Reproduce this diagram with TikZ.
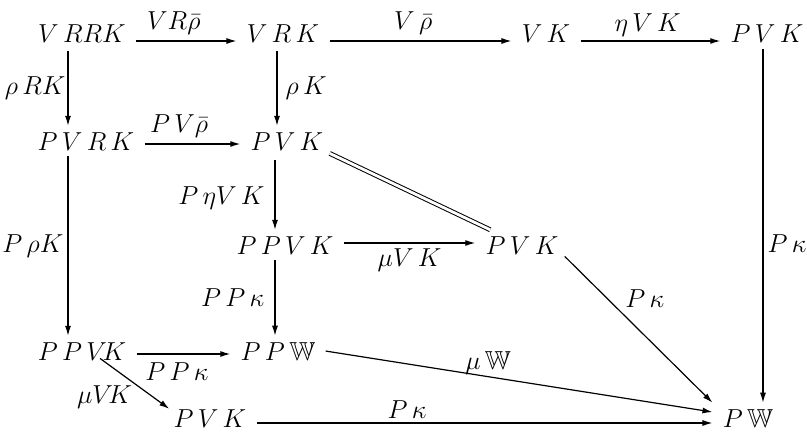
\RequirePackage{fix-cm}
\documentclass[tikz,border=0pt]{standalone}
\usepackage{amssymb}
\usetikzlibrary{arrows.meta}
\begin{document}
\begin{tikzpicture}[x=0.5pt,y=-0.5pt,
  obj/.style={anchor=base, inner xsep=5pt, inner ysep=3pt, font=\fontsize{13}{15}\selectfont},
  lbl/.style={font=\fontsize{13}{15}\selectfont, inner sep=2pt},
  arr/.style={-{Latex[length=5pt,width=3pt]}, line width=0.6pt},
  eq/.style={double, double distance=1.4pt, line width=0.5pt}]
\useasboundingbox (0,0) rectangle (807,433);
% objects
\node[obj] (vrrk)  at (82,43)  {$V\,RRK$};
\node[obj] (vrk)   at (283,43) {$V\,R\,K$};
\node[obj] (vk)    at (546,43) {$V\,K$};
\node[obj] (pvktr) at (767,43) {$P\,V\,K$};
\node[obj] (pvrk)  at (86,150) {$P\,V\,R\,K$};
\node[obj] (pvk2)  at (287,150) {$P\,V\,K$};
\node[obj] (ppvk3) at (285,254) {$P\,P\,V\,K$};
\node[obj] (pvk3)  at (522,254) {$P\,V\,K$};
\node[obj] (ppvk4) at (82,360) {$P\,P\,V\!K$};
\node[obj] (ppw)   at (278,360) {$P\,P\,\mathbb{W}$};
\node[obj] (pvk5)  at (210,427) {$P\,V\,K$};
\node[obj] (pw)    at (748,427) {$P\,\mathbb{W}$};
% top row
\draw[arr] ([yshift=1pt]vrrk.base east) -- node[lbl,pos=.375,above,inner sep=3pt]{$VR\bar\rho$} ([yshift=1pt]vrrk.base east -| vrk.west);
\draw[arr] ([yshift=1pt]vrk.base east) -- node[lbl,pos=.46,above,inner sep=3pt]{$V\,\bar\rho$} ([yshift=1pt]vrk.base east -| vk.west);
\draw[arr] ([yshift=1pt]vk.base east) -- node[lbl,pos=.48,above]{$\eta\,V\,K$} ([yshift=1pt]vk.base east -| pvktr.west);
% verticals
\draw[arr] ([xshift=-7pt,yshift=-1pt]vrrk.south) -- node[lbl,midway,left,inner sep=1pt]{$\rho\,RK$} ([xshift=-7pt]vrrk.south |- pvrk.north);
\draw[arr] ([xshift=-3pt,yshift=-1pt]vrk.south) -- node[lbl,midway,right,inner sep=4pt]{$\rho\,K$} ([xshift=-3pt]vrk.south |- pvk2.north);
\draw[arr] ([xshift=-9pt]pvrk.south) -- node[lbl,pos=.5,left,inner sep=2pt]{$P\,\rho K$} ([xshift=-9pt]pvrk.south |- ppvk4.north);
\draw[arr] ([xshift=-6pt,yshift=-2pt]pvk2.south) -- node[lbl,pos=.55,left,inner sep=5pt]{$P\,\eta V\,K$} ([xshift=-6pt]pvk2.south |- ppvk3.north);
\draw[arr] ([xshift=-5pt]ppvk3.south) -- node[lbl,pos=.5,left,inner sep=5pt]{$P\,P\,\kappa$} ([xshift=-5pt]ppvk3.south |- ppw.north);
\draw[arr] ([xshift=-2pt]pvktr.south) -- node[lbl,pos=.55,right,inner sep=2pt]{$P\,\kappa$} ([xshift=-2pt]pvktr.south |- pw.north);
% row 2
\draw[arr] ([yshift=3pt]pvrk.base east) -- node[lbl,pos=.36,above,inner sep=3pt]{$P\,V\bar\rho$} ([yshift=3pt]pvrk.base east -| pvk2.west);
\draw[eq] ([xshift=-2pt,yshift=1.5pt]pvk2.south east) -- ([xshift=7.5pt]pvk3.north west);
% row 3
\draw[arr] ([yshift=5.5pt]ppvk3.base east) -- node[lbl,midway,below,inner sep=2.5pt]{$\mu V\,K$} ([yshift=5.5pt]ppvk3.base east -| pvk3.west);
\draw[arr] ([xshift=-2pt,yshift=2pt]pvk3.south east) -- node[lbl,pos=.38,above right]{$P\,\kappa$} (pw.north west);
% row 4
\draw[arr] ([yshift=3pt]ppvk4.base east) -- node[lbl,pos=.43,below,inner sep=4pt]{$P\,P\,\kappa$} ([yshift=3pt]ppvk4.base east -| ppw.west);
\draw[arr] ([xshift=9pt,yshift=4pt]ppvk4.south) -- node[lbl,pos=.5,below left,inner sep=1pt]{$\mu V\!K$} ([xshift=3pt,yshift=-3pt]pvk5.north west);
\draw[arr] (ppw.east) -- node[lbl,pos=.42,above,inner sep=1pt]{$\mu\,\mathbb{W}$} ([yshift=3pt]pw.west);
% row 5
\draw[arr] ([yshift=2pt]pvk5.base east) -- node[lbl,pos=.33,above]{$P\,\kappa$} ([yshift=2pt]pvk5.base east -| pw.west);
\end{tikzpicture}
\end{document}
